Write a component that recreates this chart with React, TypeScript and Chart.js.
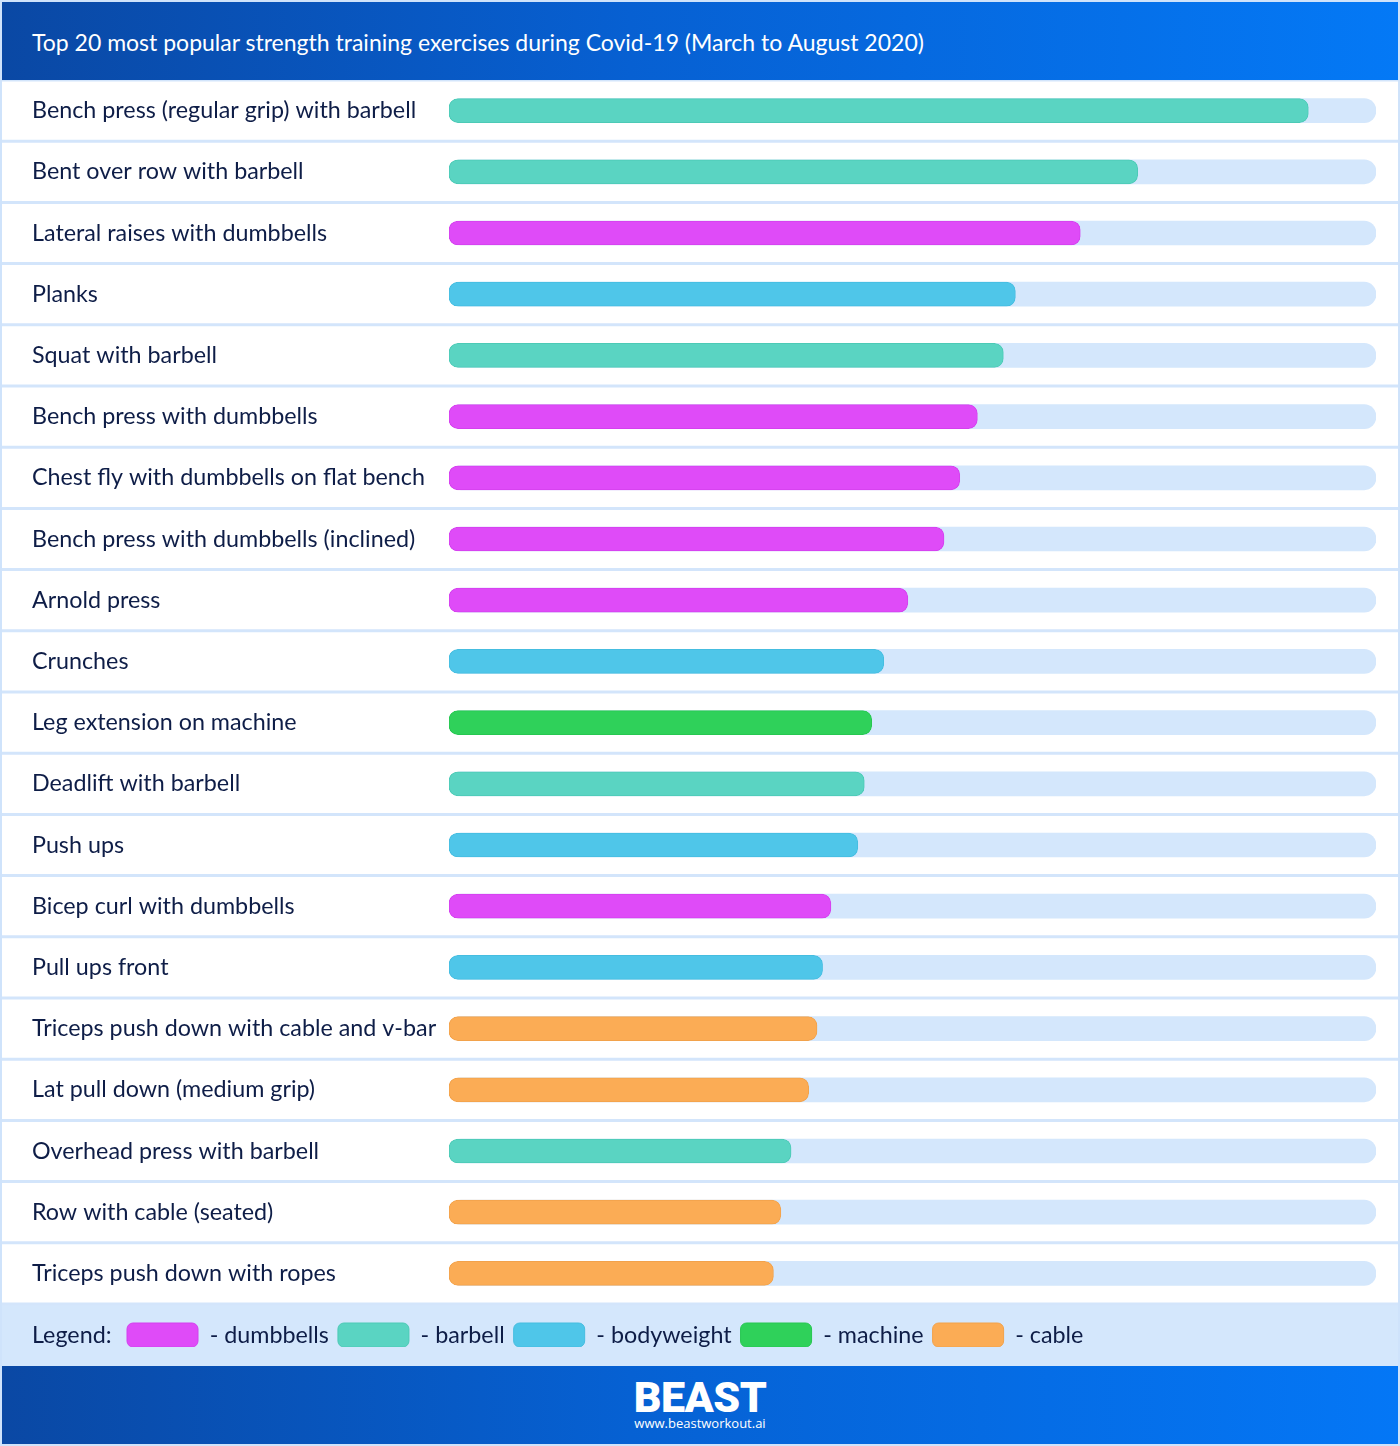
import React, { useEffect, useRef } from "react";
import { Chart, registerables } from "chart.js";

Chart.register(...registerables);

const exercises = [
  "Bench press (regular grip) with barbell",
  "Bent over row with barbell",
  "Lateral raises with dumbbells",
  "Planks",
  "Squat with barbell",
  "Bench press with dumbbells",
  "Chest fly with dumbbells on flat bench",
  "Bench press with dumbbells (inclined)",
  "Arnold press",
  "Crunches",
  "Leg extension on machine",
  "Deadlift with barbell",
  "Push ups",
  "Bicep curl with dumbbells",
  "Pull ups front",
  "Triceps push down with cable and v-bar",
  "Lat pull down (medium grip)",
  "Overhead press with barbell",
  "Row with cable (seated)",
  "Triceps push down with ropes",
];

const popularity = [
  92.7, 74.3, 68.1, 61.1, 59.8, 57.0, 55.1, 53.4, 49.5, 46.9,
  45.6, 44.8, 44.1, 41.2, 40.3, 39.7, 38.8, 36.9, 35.8, 35.0,
];

const equipment = [
  "barbell", "barbell", "dumbbells", "bodyweight", "barbell",
  "dumbbells", "dumbbells", "dumbbells", "dumbbells", "bodyweight",
  "machine", "barbell", "bodyweight", "dumbbells", "bodyweight",
  "cable", "cable", "barbell", "cable", "cable",
];

const equipmentTypes = ["dumbbells", "barbell", "bodyweight", "machine", "cable"];
const equipmentColors = ["#df4bf8", "#5ad4c2", "#4fc6e9", "#2fd15a", "#fbac55"];
const equipmentBorders = ["#d440ee", "#4ccab6", "#45bde0", "#27c751", "#f2a24b"];

const scaleMax = 100;
const titleText = "Top 20 most popular strength training exercises during Covid-19 (March to August 2020)";
const legendPrefix = "Legend:";

const FONT = "Lato, 'Open Sans', sans-serif";
const TEXT_COLOR = "#0e1d47";
const PALE = "#d4e7fc";
const LABEL_SIZE = 23.3;

export default function App() {
  const canvasRef = useRef<HTMLCanvasElement | null>(null);

  useEffect(() => {
    const canvas = canvasRef.current;
    if (!canvas) return;

    const datasets: any[] = equipmentTypes.map((t, k) => ({
      label: "- " + t,
      data: popularity.map((v, i) => (equipment[i] === t ? v : null)),
      backgroundColor: equipmentColors[k],
      borderColor: equipmentBorders[k],
      borderWidth: 1,
      borderRadius: 9,
      borderSkipped: false,
      barThickness: 24,
      grouped: false,
      order: 0,
    }));
    datasets.push({
      label: "track",
      data: exercises.map(() => scaleMax),
      backgroundColor: PALE,
      borderWidth: 0,
      borderRadius: 12,
      borderSkipped: false,
      barThickness: 24,
      grouped: false,
      order: 1,
    });

    const decor = {
      id: "decor",
      afterLayout(chart: any) {
        const lg = chart.legend;
        const ca = chart.chartArea;
        if (lg) {
          // centre the legend row in the pale band below the rows
          const bandMid = (ca.bottom + chart.height) / 2;
          const pad = lg.options.labels.padding;
          lg.top = bandMid - 12 - pad;
          lg.left = 127 - pad;
        }
      },
      beforeDraw(chart: any) {
        const ctx = chart.ctx;
        const ca = chart.chartArea;
        ctx.save();
        ctx.fillStyle = PALE;
        ctx.fillRect(0, ca.bottom, chart.width, chart.height - ca.bottom);
        const ys = chart.scales.y;
        ctx.strokeStyle = "#d3e5fb";
        ctx.lineWidth = 3;
        for (let i = 0; i <= exercises.length; i++) {
          const y = ys.getPixelForValue(i - 0.5);
          ctx.beginPath();
          ctx.moveTo(0, y);
          ctx.lineTo(chart.width, y);
          ctx.stroke();
        }
        ctx.restore();
      },
      afterDraw(chart: any) {
        const ctx = chart.ctx;
        const ca = chart.chartArea;
        ctx.save();
        ctx.fillStyle = TEXT_COLOR;
        ctx.font = `${LABEL_SIZE}px ${FONT}`;
        ctx.textBaseline = "middle";
        ctx.textAlign = "left";
        ctx.fillText(legendPrefix, 32, (ca.bottom + chart.height) / 2);
        ctx.restore();
      },
    };

    const chart = new Chart(canvas, {
      type: "bar",
      data: { labels: exercises, datasets },
      options: {
        indexAxis: "y",
        responsive: false,
        animation: false,
        layout: { padding: { left: 32, right: 24, top: 0, bottom: 19 } },
        scales: {
          x: { display: false, min: 0, max: scaleMax },
          y: {
            grid: { display: false },
            border: { display: false },
            ticks: {
              crossAlign: "far",
              padding: 0,
              color: TEXT_COLOR,
              font: { family: FONT, size: LABEL_SIZE },
            },
            afterFit: (s: any) => {
              s.width = 417;
              s.paddingTop = 0;
              s.paddingBottom = 0;
            },
          },
        },
        plugins: {
          legend: {
            position: "bottom",
            align: "start",
            labels: {
              boxWidth: 71,
              boxHeight: 24,
              padding: 9,
              useBorderRadius: true,
              borderRadius: 6,
              color: TEXT_COLOR,
              font: { family: FONT, size: LABEL_SIZE },
              filter: (item: any) => item.datasetIndex < equipmentTypes.length,
            },
          },
          tooltip: { enabled: false },
        },
      } as any,
      plugins: [decor],
    });

    return () => chart.destroy();
  }, []);

  return (
    <div
      style={{
        position: "absolute",
        left: 0,
        top: 0,
        width: 1400,
        height: 1446,
        background: "#ffffff",
        overflow: "hidden",
        fontFamily: FONT,
      }}
    >
      <div
        style={{
          position: "absolute",
          left: 0,
          top: 0,
          width: 1400,
          height: 80,
          background: "linear-gradient(90deg, #0a48a4 0%, #0760d2 45%, #0479f6 100%)",
          color: "#ffffff",
          fontSize: 23,
          lineHeight: "84px",
          paddingLeft: 32,
          boxSizing: "border-box",
          whiteSpace: "nowrap",
        }}
      >
        {titleText}
      </div>
      <canvas
        ref={canvasRef}
        width={1400}
        height={1286}
        style={{ position: "absolute", left: 0, top: 80, width: 1400, height: 1286 }}
      />
      <div
        style={{
          position: "absolute",
          left: 0,
          top: 1366,
          width: 1400,
          height: 80,
          background: "linear-gradient(90deg, #0a48a4 0%, #0661d3 45%, #0477f6 100%)",
          color: "#ffffff",
          textAlign: "center",
        }}
      >
        <div
          style={{
            position: "absolute",
            left: 0,
            width: 1400,
            top: 8,
            fontFamily: "Roboto, 'DejaVu Sans', sans-serif",
            fontWeight: 900,
            fontSize: 43,
            lineHeight: "46px",
            letterSpacing: -0.5,
          }}
        >
          BEAST
        </div>
        <div
          style={{
            position: "absolute",
            left: 0,
            width: 1400,
            top: 49,
            fontFamily: "'Open Sans', sans-serif",
            fontSize: 13,
            lineHeight: "16px",
          }}
        >
          www.beastworkout.ai
        </div>
      </div>
      <div
        style={{
          position: "absolute",
          left: 0,
          top: 0,
          width: 1400,
          height: 1446,
          boxSizing: "border-box",
          border: "2px solid #cfe3fb",
          pointerEvents: "none",
        }}
      />
    </div>
  );
}
